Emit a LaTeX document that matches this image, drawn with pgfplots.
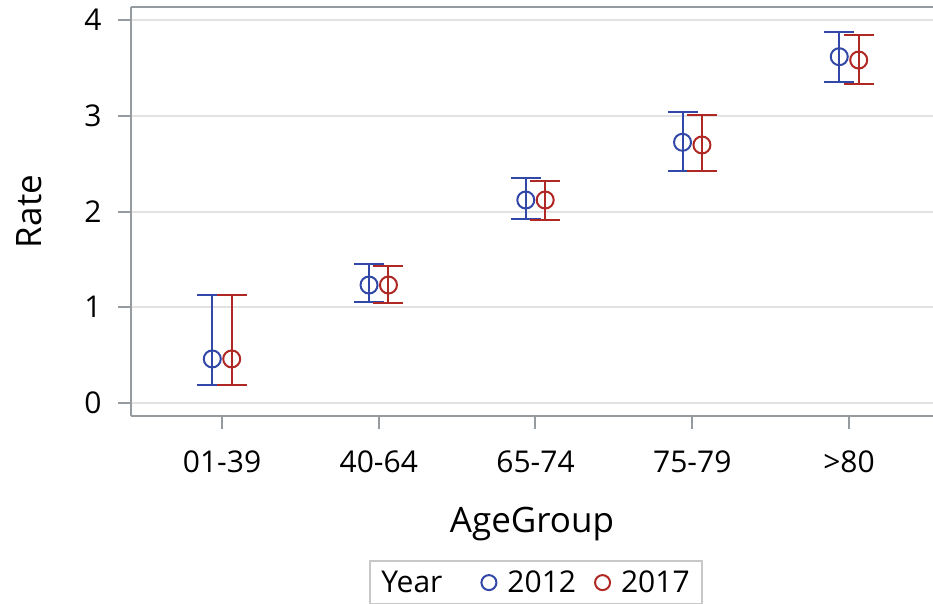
\documentclass[border=0pt]{standalone}
\usepackage{fontspec}
\setmainfont{Open Sans}
\usepackage{pgfplots}
\pgfplotsset{compat=1.18}
\definecolor{cblue}{RGB}{50,72,168}
\definecolor{cred}{RGB}{176,40,36}
\definecolor{axgray}{RGB}{150,155,160}
\definecolor{gridgray}{RGB}{226,226,226}
\definecolor{leggray}{RGB}{200,200,200}

\pgfplotstableread{
x y ep em
-0.062 0.460 0.668 0.272
0.938 1.232 0.217 0.174
1.938 2.120 0.227 0.202
2.938 2.723 0.313 0.297
3.938 3.617 0.254 0.268
}\tblA
\pgfplotstableread{
x y ep em
0.062 0.460 0.668 0.272
1.062 1.232 0.202 0.191
2.062 2.120 0.202 0.209
3.062 2.695 0.313 0.269
4.062 3.582 0.261 0.250
}\tblB

\begin{document}
\begin{tikzpicture}[x=1pt,y=1pt]
\path[use as bounding box] (0,0) rectangle (933,-604);
\clip (0,0) rectangle (933,-604);
\begin{axis}[
  at={(131pt,-416pt)}, anchor=south west,
  scale only axis, width=802pt, height=409pt,
  xmin=-0.5805, xmax=4.536, ymin=-0.136, ymax=4.136,
  axis x line=box, axis y line=left,
  axis line style={axgray, line width=2.2pt, -},
  xtick={0,1,2,3,4},
  xticklabels={01-39,40-64,65-74,75-79,>80},
  ytick={0,1,2,3,4},
  xtick pos=lower, ytick pos=left,
  tick align=outside, major tick length=13pt,
  tick style={axgray, line width=2pt},
  ymajorgrids, grid style={gridgray, line width=2pt},
  ticklabel style={font=\fontsize{30}{36}\selectfont},
  xticklabel style={yshift=-18pt},
  yticklabel style={xshift=-13pt},
  /pgf/number format/assume math mode=true,
  xlabel={AgeGroup}, ylabel={Rate},
  label style={font=\fontsize{35}{42}\selectfont},
  xlabel style={at={(axis description cs:0.5,-0.286)}, anchor=base},
  ylabel style={at={(axis description cs:-0.111,0.5)}, anchor=base},
  legend columns=-1,
  legend style={at={(axis description cs:0.505,-0.352)}, anchor=north,
    draw=leggray, line width=2pt, font=\fontsize{30}{36}\selectfont,
    inner xsep=0pt, inner ysep=8pt,
    /tikz/every odd column/.append style={column sep=9pt},
    /tikz/every even column/.append style={column sep=17pt}},
]
\addplot[forget plot, only marks, mark=o, cblue, mark size=8.5pt, line width=2pt,
  error bars/.cd, y dir=both, y explicit, error mark=|,
  error bar style={line width=2pt, cblue},
  error mark options={mark size=15pt, line width=2pt, cblue}]
  table[x=x, y=y, y error plus=ep, y error minus=em] {\tblA};
\addplot[forget plot, only marks, mark=o, cred, mark size=8.5pt, line width=2pt,
  error bars/.cd, y dir=both, y explicit, error mark=|,
  error bar style={line width=2pt, cred},
  error mark options={mark size=15pt, line width=2pt, cred}]
  table[x=x, y=y, y error plus=ep, y error minus=em] {\tblB};
\addlegendimage{empty legend}
\addlegendentry{Year\kern20pt\relax}
\addlegendimage{only marks, mark=o, cblue, mark size=7.5pt, line width=2pt}
\addlegendentry{2012}
\addlegendimage{only marks, mark=o, cred, mark size=7.5pt, line width=2pt}
\addlegendentry{2017\kern10pt\relax}
\end{axis}
\end{tikzpicture}
\end{document}
